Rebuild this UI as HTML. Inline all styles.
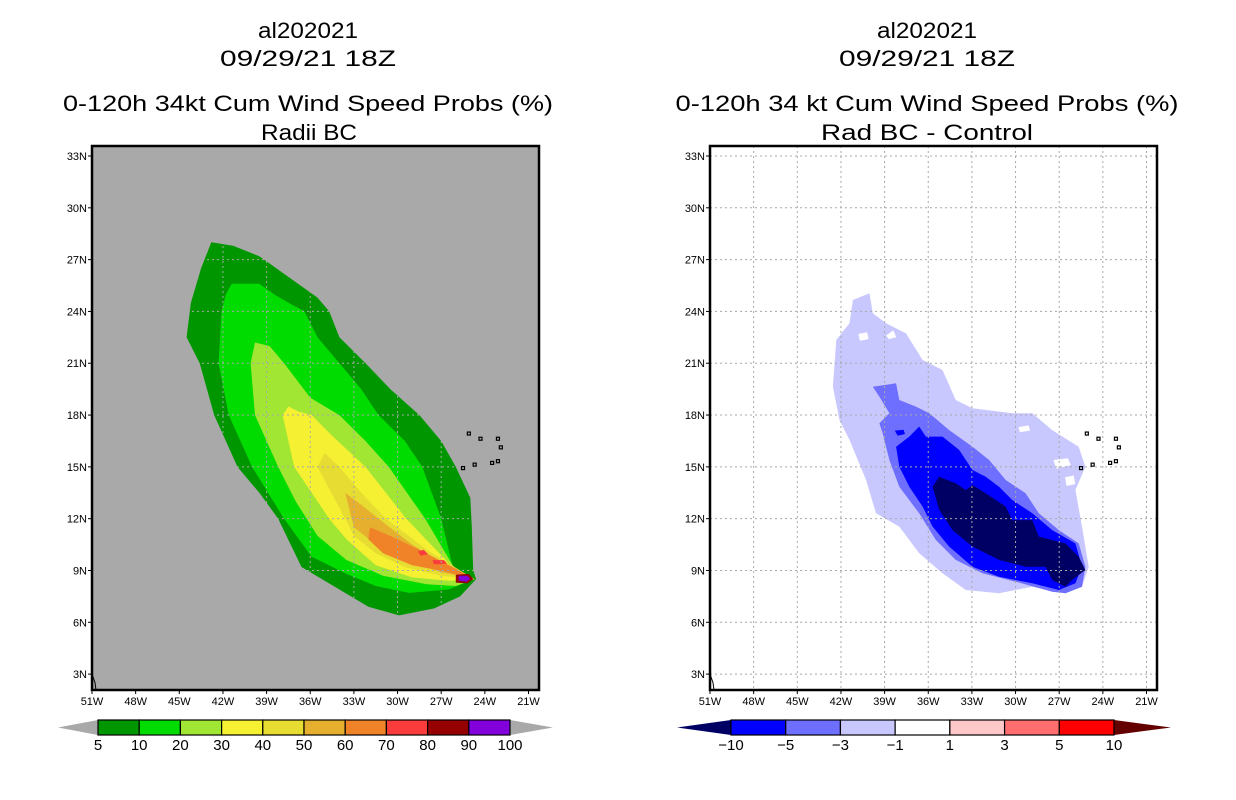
<!DOCTYPE html>
<html><head><meta charset="utf-8"><style>
html,body{margin:0;padding:0;background:#fff;}
svg{display:block;font-family:"Liberation Sans",sans-serif;}
</style></head><body>
<svg id="s" width="1236" height="800" viewBox="0 0 1236 800">
<g font-size="22" text-anchor="middle" fill="#000">
<text x="308" y="38" textLength="100" lengthAdjust="spacingAndGlyphs">al202021</text>
<text x="308" y="66" textLength="176" lengthAdjust="spacingAndGlyphs">09/29/21 18Z</text>
<text x="308" y="111" textLength="490" lengthAdjust="spacingAndGlyphs">0-120h 34kt Cum Wind Speed Probs (%)</text>
<text x="309" y="140" textLength="96" lengthAdjust="spacingAndGlyphs">Radii BC</text>
</g>
<g font-size="22" text-anchor="middle" fill="#000">
<text x="927" y="38" textLength="100" lengthAdjust="spacingAndGlyphs">al202021</text>
<text x="927" y="66" textLength="176" lengthAdjust="spacingAndGlyphs">09/29/21 18Z</text>
<text x="927" y="111" textLength="503" lengthAdjust="spacingAndGlyphs">0-120h 34 kt Cum Wind Speed Probs (%)</text>
<text x="927" y="140" textLength="212" lengthAdjust="spacingAndGlyphs">Rad BC - Control</text>
</g>
</svg>
<script>
// ---- data ----
const lonTicks=[-51,-48,-45,-42,-39,-36,-33,-30,-27,-24,-21];
const latTicks=[3,6,9,12,15,18,21,24,27,30,33];
const probLevels=[5,10,20,30,40,50,60,70,80,90,100];
const probColors=["#009600","#00dc00","#a0e632","#f5f032","#e6dc32","#e6af2d","#f08228","#fa3c3c","#960000","#8200dc"];
const diffLevels=["-10","-5","-3","-1","1","3","5","10"];
const diffColors=["#000064","#0000ff","#6e6eff","#c8c8ff","#ffffff","#ffc8c8","#ff6e6e","#ff0000","#640000"];
const prob5=[[-42.8,28],[-41.3,27.8],[-39.5,27.2],[-37.5,26],[-35.5,24.8],[-34.7,24],[-34,22.5],[-32.2,21],[-30.5,19.5],[-28.5,18],[-27,16.5],[-26,15],[-25,13.2],[-24.9,11.5],[-24.8,9],[-24.6,8.5],[-25.7,7.5],[-27.5,6.8],[-29.9,6.4],[-32,6.9],[-34,7.9],[-36.6,9.2],[-38.2,12],[-39.5,13.5],[-41,15],[-42.6,18],[-43.6,21],[-44.5,22.5],[-44.2,24.5],[-43.5,26.5]];
const prob10=[[-41.4,25.6],[-39.5,25.6],[-38.5,25],[-37.5,24.5],[-36.4,24],[-35.5,22.5],[-34,21],[-32.5,19.5],[-31.3,18],[-29.5,16.5],[-28.3,15],[-27,12],[-26.2,9.2],[-24.7,8.5],[-26.5,7.9],[-29.2,7.7],[-31.5,8.1],[-33.5,8.8],[-35.9,9.8],[-37.8,12],[-40,15],[-41.6,18],[-42.3,21],[-42.1,24],[-41.8,25]];
const prob20=[[-39.8,22.2],[-38.8,22],[-37.8,21],[-36,19],[-34,18],[-32.2,16.5],[-30.6,15],[-28.1,12],[-26,9],[-24.7,8.5],[-26,8.1],[-28,8.2],[-31,8.7],[-33.5,9.6],[-35.5,11],[-37,13],[-38.2,15],[-39.8,18],[-40.1,21]];
const prob30=[[-37.5,18.5],[-36.8,18.2],[-35.9,18],[-34.5,16.8],[-32.2,15],[-29.4,12],[-26,9],[-24.7,8.5],[-26.5,8.4],[-29,8.6],[-31.5,9.3],[-33.5,10.8],[-34.7,12],[-37.1,15],[-37.9,18]];
const prob40=[[-35,15.8],[-34,15],[-32.5,13.5],[-30.8,12],[-28,10.2],[-25.5,8.9],[-24.7,8.5],[-27,8.7],[-29.5,9.2],[-31.5,10],[-33,11],[-33.6,12],[-35.5,15]];
const prob50=[[-33.6,13.5],[-32.5,12.8],[-31,11.8],[-29,10.5],[-26.5,9.2],[-24.7,8.5],[-27,8.9],[-29.5,9.6],[-31.5,10.5],[-33,11.5]];
const prob60=[[-31.9,11.5],[-30.5,11],[-28.5,10.2],[-26,9.1],[-24.7,8.5],[-26.5,8.9],[-29,9.3],[-31,10],[-32,10.8]];
const prob70=[[-28.6,10.1],[-28.2,10.2],[-27.9,9.95],[-28.4,9.85]];
const prob70b=[[-27.6,9.6],[-26.8,9.6],[-26.6,9.4],[-27.5,9.35]];
const prob80=[[-26,8.75],[-25.1,8.8],[-24.8,8.5],[-25.2,8.25],[-26,8.3]];
const prob90=[[-25.8,8.7],[-25.2,8.7],[-25.0,8.5],[-25.3,8.35],[-25.8,8.4]];
const diff1=[[-41.18,24.66],[-40.04,25.05],[-39.81,23.89],[-38.9,23.31],[-37.53,22.73],[-36.39,21.19],[-35.02,20.61],[-34.11,18.87],[-32.96,18.39],[-30.22,18.1],[-28.85,18.1],[-27.48,17.13],[-25.66,16.17],[-25.2,15.01],[-25.89,13.66],[-25.43,11.54],[-24.97,9.22],[-25.43,8.06],[-26.57,7.68],[-28.85,8.06],[-31.14,7.68],[-33.42,7.87],[-35.02,8.84],[-36.62,10],[-37.99,11.54],[-39.59,12.31],[-40.27,14.24],[-41.41,16.56],[-42.1,17.71],[-42.55,19.64],[-42.32,22.35],[-41.41,23.31]];
const diffHole1=[[-40.8,22.7],[-40.2,22.8],[-40.1,22.4],[-40.7,22.3]];
const diffHole2=[[-38.9,22.6],[-38.4,22.9],[-38.2,22.5],[-38.7,22.4]];
const diffHole3=[[-29.8,17.3],[-29.1,17.4],[-29.0,17.1],[-29.7,17.0]];
const diffHole4=[[-27.4,15.4],[-26.4,15.5],[-26.2,15.1],[-27.2,14.9]];
const diffHole5=[[-26.6,14.4],[-26.0,14.5],[-25.9,14.0],[-26.5,13.9]];
const diff3=[[-39.81,19.64],[-38.21,19.84],[-37.99,18.87],[-36.85,18.49],[-35.93,18.1],[-34.56,17.13],[-32.96,16.17],[-31.82,15.4],[-30.68,14.24],[-29.31,13.47],[-28.4,12.31],[-27.03,11.34],[-25.66,10.57],[-25.2,9.22],[-25.43,8.06],[-26.57,7.68],[-27.48,7.77],[-29.99,8.35],[-32.28,8.84],[-34.11,9.61],[-35.48,10.77],[-36.62,12.31],[-37.99,13.85],[-38.67,15.4],[-39.13,16.94],[-39.36,17.52],[-38.67,18.1],[-39.36,19.06]];
const diff5=[[-38.21,16.17],[-37.3,16.75],[-36.62,17.33],[-36.16,16.75],[-35.02,16.75],[-33.88,15.98],[-32.96,14.82],[-32.05,14.43],[-31.14,13.85],[-30.22,13.08],[-28.85,12.31],[-27.48,11.34],[-25.89,10.57],[-25.43,9.22],[-25.89,8.26],[-27.03,7.87],[-28.85,8.26],[-31.14,8.64],[-32.96,9.22],[-34.56,10.38],[-35.7,11.54],[-36.39,12.7],[-37.3,13.85],[-37.99,15.01]];
const diff5b=[[-38.3,17.1],[-37.7,17.15],[-37.6,16.9],[-38.1,16.8]];
const diff10=[[-35.25,14.43],[-34.11,14.05],[-33.42,13.66],[-32.96,13.95],[-32.05,13.47],[-30.68,12.7],[-30.22,11.92],[-28.85,11.92],[-28.4,10.96],[-26.57,10.57],[-25.66,9.8],[-25.2,9.03],[-26.12,8.45],[-26.57,8.06],[-27.48,8.45],[-27.94,9.22],[-29.31,9.22],[-31.14,9.61],[-32.96,10.38],[-34.33,11.34],[-35.25,12.51],[-35.7,13.85]];

// ---- axes ----
const NS="http://www.w3.org/2000/svg";
const svg=document.getElementById('s');
const Y0=156, PXLAT=17.27;
function yLat(l){return Y0+(33-l)*PXLAT;}
function mkX(x0){return function(lon){return x0+(lon+51)*14.55;};}
function el(tag,attrs,parent){const e=document.createElementNS(NS,tag);for(const k in attrs)e.setAttribute(k,attrs[k]);(parent||svg).appendChild(e);return e;}
function ptsStr(pts,fx){return pts.map(q=>fx(q[0]).toFixed(1)+','+yLat(q[1]).toFixed(1)).join(' ');}
function poly(pts,fx,fill,g,name){
  const p=el('polygon',{points:ptsStr(pts,fx),fill:fill},g);
  
  
}
function panel(x0,bg,name,layers,gridShape){
  const fx=mkX(x0);
  const left=x0, right=x0+447, top=146, bot=690;
  const g=el('g',{});
  
  
  const cp=el('clipPath',{id:'c'+name});el('rect',{x:left,y:top,width:447,height:544},cp);
  const r=el('rect',{x:left,y:top,width:447,height:544,fill:bg},g);
  
  
  const inner=el('g',{'clip-path':'url(#c'+name+')'},g);
  layers.forEach(L=>poly(L[0],fx,L[1],inner,L[2]));
  // grid
  let gattrs={stroke:'#a8a8a8','stroke-width':1,'stroke-dasharray':'2,3'};
  if(gridShape){
    const gc=el('clipPath',{id:'g'+name});el('polygon',{points:ptsStr(gridShape,fx)},gc);
    gattrs['clip-path']='url(#g'+name+')';
  }
  const gg=el('g',gattrs,inner);
  lonTicks.forEach(l=>{if(l>-51)el('line',{x1:fx(l),x2:fx(l),y1:top,y2:bot},gg);});
  latTicks.forEach(l=>el('line',{x1:left,x2:right,y1:yLat(l),y2:yLat(l)},gg));
  // islands
  const isl=el('g',{fill:'none',stroke:'#000','stroke-width':1.2},inner);
  
  
  [[-25.1,16.9],[-24.3,16.6],[-23.1,16.6],[-22.9,16.1],[-24.7,15.1],[-23.5,15.2],[-23.1,15.3],[-25.5,14.9]].forEach(p=>el('rect',{x:fx(p[0])-1.5,y:yLat(p[1])-2,width:3,height:3},isl));
  el('polyline',{points:fx(-51)+','+yLat(3)+' '+(fx(-51)+3)+','+yLat(2.5)+' '+(fx(-51)+4)+','+bot,fill:'none',stroke:'#000'},inner);
  el('rect',{x:left,y:top,width:447,height:544,fill:'none',stroke:'#000','stroke-width':2.5},g);
  // tick labels
  const tl=el('g',{'font-size':11,fill:'#000'},g);
  latTicks.forEach(l=>{
    el('line',{x1:left-4,x2:left,y1:yLat(l),y2:yLat(l),stroke:'#000'},tl);
    const t=el('text',{x:left-5,y:yLat(l)+4,'text-anchor':'end'},tl);t.textContent=l+'N';
    
    
  });
  lonTicks.forEach(l=>{
    el('line',{x1:fx(l),x2:fx(l),y1:bot,y2:bot+4,stroke:'#000'},tl);
    const t=el('text',{x:fx(l),y:bot+15,'text-anchor':'middle'},tl);t.textContent=(-l)+'W';
    
    
  });
}
panel(92,'#a9a9a9','left-map-panel',[[prob5,probColors[0],'prob-5'],[prob10,probColors[1],'prob-10'],[prob20,probColors[2],'prob-20'],[prob30,probColors[3],'prob-30'],[prob40,probColors[4],'prob-40'],[prob50,probColors[5],'prob-50'],[prob60,probColors[6],'prob-60'],[prob70,probColors[7],'prob-70'],[prob70b,probColors[7],'prob-70'],[prob80,probColors[8],'prob-80'],[prob90,probColors[9],'prob-90']],prob5);
panel(710,'#ffffff','right-map-panel',[[diff1,diffColors[3],'diff-minus1'],[diffHole1,'#fff','diff-hole'],[diffHole2,'#fff','diff-hole'],[diffHole3,'#fff','diff-hole'],[diffHole4,'#fff','diff-hole'],[diffHole5,'#fff','diff-hole'],[diff3,diffColors[2],'diff-minus3'],[diff5,diffColors[1],'diff-minus5'],[diff5b,diffColors[1],'diff-minus5'],[diff10,diffColors[0],'diff-minus10']],null);

// colorbars
function colorbar(x0,x1,tipL,tipR,cols,labels,leftTip,rightTip,name){
  const g=el('g',{});
  
  
  const y0=720,y1=735,n=cols.length,w=(x1-x0)/n;
  el('polygon',{points:`${tipL},${(y0+y1)/2} ${x0},${y0} ${x0},${y1}`,fill:leftTip},g);
  el('polygon',{points:`${tipR},${(y0+y1)/2} ${x1},${y0} ${x1},${y1}`,fill:rightTip},g);
  cols.forEach((c,i)=>{const r=el('rect',{x:x0+i*w,y:y0,width:w,height:y1-y0,fill:c,stroke:'#000','stroke-width':1.2},g);
    
    });
  labels.forEach((l,i)=>{const t=el('text',{x:x0+i*w,y:y1+15,'text-anchor':'middle','font-size':15},g);t.textContent=l.replace('-','\u2212');
    
    });
}
colorbar(98,510,58,553,probColors,probLevels.map(String),'#a9a9a9','#a9a9a9','left-colorbar');
colorbar(731,1114,677,1171,diffColors.slice(1,8),diffLevels,diffColors[0],diffColors[8],'right-colorbar');
</script>
</body></html>
